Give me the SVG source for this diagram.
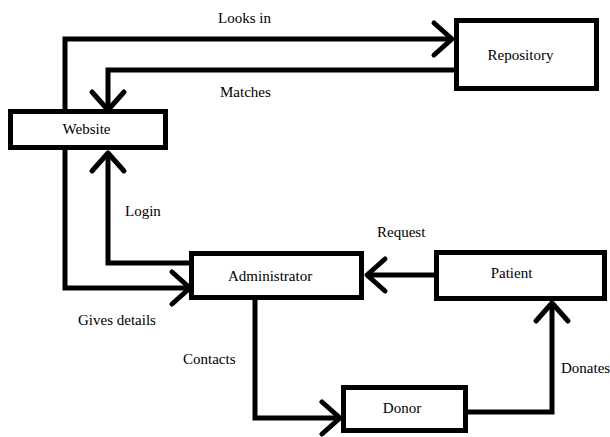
<svg xmlns="http://www.w3.org/2000/svg" width="610" height="437" viewBox="0 0 610 437">
<style>
.box{fill:#fff;stroke:#000;stroke-width:5}
.conn{fill:none;stroke:#000;stroke-width:5;stroke-linejoin:miter}
text{font-family:"Liberation Serif","Times New Roman",serif;font-size:15px;fill:#000}
.c{text-anchor:middle}
</style>
<defs>
<marker id="arr" markerUnits="userSpaceOnUse" viewBox="-24 -22 28 44" markerWidth="28" markerHeight="44" refX="0" refY="0" orient="auto" overflow="visible">
<path d="M-18,-16 L0,0 L-18,16" fill="none" stroke="#000" stroke-width="5" stroke-linecap="round" stroke-linejoin="round"/>
</marker>
</defs>
<rect width="610" height="437" fill="#fff"/>
<g id="connectors">
<path class="conn" d="M65,110 V39 H452" marker-end="url(#arr)"/>
<path class="conn" d="M455,70 H108 V110" marker-end="url(#arr)"/>
<path class="conn" d="M65,150 V288 H190" marker-end="url(#arr)"/>
<path class="conn" d="M191,263 H108 V153" marker-end="url(#arr)"/>
<path class="conn" d="M435,275 H367" marker-end="url(#arr)"/>
<path class="conn" d="M255,299 V418 H340" marker-end="url(#arr)"/>
<path class="conn" d="M467,412 H552 V303" marker-end="url(#arr)"/>
</g>
<g id="website"><rect class="box" x="10.5" y="111.5" width="155" height="36"/><text class="c" x="86.5" y="134">Website</text></g>
<g id="repository"><rect class="box" x="456.5" y="20.5" width="140" height="68"/><text class="c" x="520.5" y="60">Repository</text></g>
<g id="administrator"><rect class="box" x="191.5" y="253.5" width="170" height="44"/><text x="228" y="281">Administrator</text></g>
<g id="patient"><rect class="box" x="436.5" y="252.5" width="168" height="46"/><text class="c" x="511.5" y="278">Patient</text></g>
<g id="donor"><rect class="box" x="343.5" y="387.5" width="122" height="43"/><text class="c" x="402" y="413">Donor</text></g>
<g id="labels">
<text x="218" y="23">Looks in</text>
<text x="220" y="97">Matches</text>
<text x="125" y="216">Login</text>
<text x="377" y="237">Request</text>
<text x="78" y="325">Gives details</text>
<text x="183" y="364">Contacts</text>
<text x="561" y="373">Donates</text>
</g>
</svg>
